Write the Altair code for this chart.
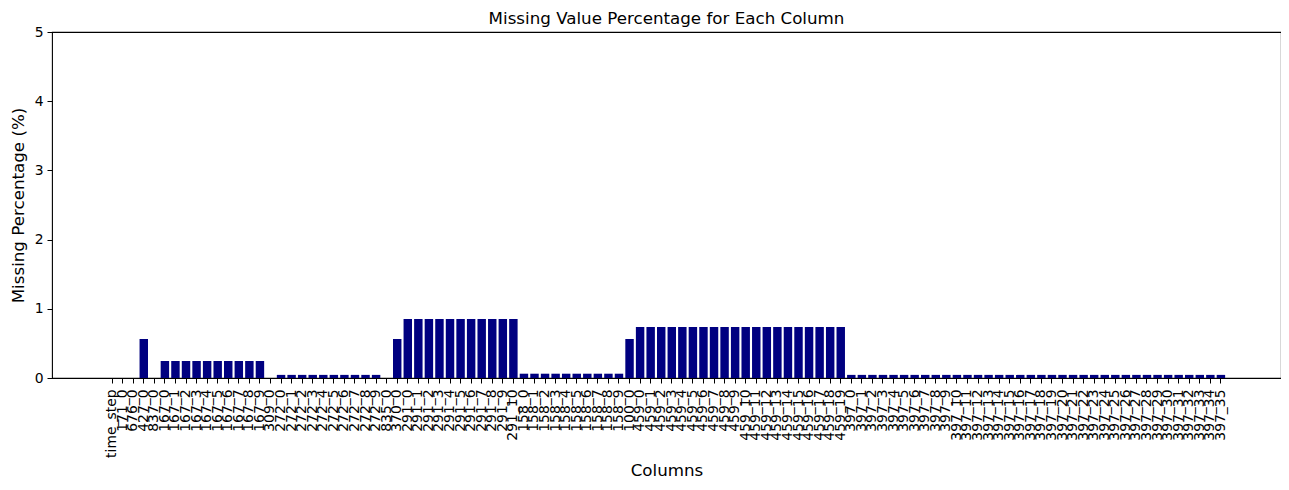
import altair as alt
import pandas as pd

columns = [
    "time_step", "171_0", "676_0", "427_0", "837_0",
    "167_0", "167_1", "167_2", "167_3", "167_4", "167_5", "167_6", "167_7", "167_8", "167_9",
    "309_0",
    "272_0", "272_1", "272_2", "272_3", "272_4", "272_5", "272_6", "272_7", "272_8", "272_9",
    "835_0", "370_0",
    "291_0", "291_1", "291_2", "291_3", "291_4", "291_5", "291_6", "291_7", "291_8", "291_9", "291_10",
    "158_0", "158_1", "158_2", "158_3", "158_4", "158_5", "158_6", "158_7", "158_8", "158_9",
    "100_0",
    "459_0", "459_1", "459_2", "459_3", "459_4", "459_5", "459_6", "459_7", "459_8", "459_9",
    "459_10", "459_11", "459_12", "459_13", "459_14", "459_15", "459_16", "459_17", "459_18", "459_19",
    "397_0", "397_1", "397_2", "397_3", "397_4", "397_5", "397_6", "397_7", "397_8", "397_9",
    "397_10", "397_11", "397_12", "397_13", "397_14", "397_15", "397_16", "397_17", "397_18", "397_19",
    "397_20", "397_21", "397_22", "397_23", "397_24", "397_25", "397_26", "397_27", "397_28", "397_29",
    "397_30", "397_31", "397_32", "397_33", "397_34", "397_35",
]

missing_pct = [
    0.0, 0.0, 0.0, 0.564, 0.0,
    0.246, 0.246, 0.246, 0.246, 0.246, 0.246, 0.246, 0.246, 0.246, 0.246,
    0.0,
    0.045, 0.045, 0.045, 0.045, 0.045, 0.045, 0.045, 0.045, 0.045, 0.045,
    0.0, 0.564,
    0.853, 0.853, 0.853, 0.853, 0.853, 0.853, 0.853, 0.853, 0.853, 0.853, 0.853,
    0.062, 0.062, 0.062, 0.062, 0.062, 0.062, 0.062, 0.062, 0.062, 0.062,
    0.564,
    0.737, 0.737, 0.737, 0.737, 0.737, 0.737, 0.737, 0.737, 0.737, 0.737,
    0.737, 0.737, 0.737, 0.737, 0.737, 0.737, 0.737, 0.737, 0.737, 0.737,
    0.045, 0.045, 0.045, 0.045, 0.045, 0.045, 0.045, 0.045, 0.045, 0.045,
    0.045, 0.045, 0.045, 0.045, 0.045, 0.045, 0.045, 0.045, 0.045, 0.045,
    0.045, 0.045, 0.045, 0.045, 0.045, 0.045, 0.045, 0.045, 0.045, 0.045,
    0.045, 0.045, 0.045, 0.045, 0.045, 0.045,
]

df = pd.DataFrame({"Column": columns, "Missing": missing_pct})

W, H = 1229, 346
FONT = "DejaVu Sans"
# matplotlib-style margins: 5.29 bar-steps of empty space at each side
STEP = W / (len(columns) - 0.2 + 2 * 5.29)
X_RANGE = [5.29 * STEP, W - 5.29 * STEP]

chart = (
    alt.Chart(df)
    .mark_bar(color="#000080")
    .encode(
        x=alt.X(
            "Column:N",
            sort=None,
            scale=alt.Scale(paddingInner=0.2, paddingOuter=0, range=X_RANGE),
            axis=alt.Axis(
                title="Columns",
                titleFont=FONT,
                titleFontSize=16.7,
                titleFontWeight="normal",
                titleColor="black",
                titleX=W / 2,
                titleY=92,
                titleBaseline="middle",
                labelAngle=270,
                labelAlign="right",
                labelBaseline="middle",
                labelFont=FONT,
                labelFontSize=13.9,
                labelColor="black",
                labelOverlap=False,
                labelBound=False,
                labelLimit=300,
                labelPadding=6,
                tickSize=5,
                tickColor="black",
                domain=False,
                grid=False,
            ),
        ),
        y=alt.Y(
            "Missing:Q",
            scale=alt.Scale(domain=[0, 5], nice=False),
            axis=alt.Axis(
                title="Missing Percentage (%)",
                titleFont=FONT,
                titleFontSize=16.7,
                titleFontWeight="normal",
                titleColor="black",
                titleX=-34,
                titleY=H / 2,
                titleAlign="center",
                titleBaseline="middle",
                values=[0, 1, 2, 3, 4, 5],
                format="d",
                labelFont=FONT,
                labelFontSize=13.9,
                labelColor="black",
                labelPadding=4,
                tickSize=5,
                tickColor="black",
                domain=False,
                grid=False,
            ),
        ),
    )
    .properties(
        width=W,
        height=H,
        title=alt.TitleParams(
            "Missing Value Percentage for Each Column",
            font=FONT,
            fontSize=16.7,
            fontWeight="normal",
            color="black",
            anchor="middle",
            offset=0,
            dy=3,
        ),
        autosize=alt.AutoSizeParams(type="none"),
        padding={"left": 44, "top": 24, "right": 0, "bottom": 104},
    )
    .configure(background="white")
    .configure_view(stroke="black", strokeWidth=1.1)
)

chart.save("out.html", embed_options={"renderer": "svg", "actions": False})
